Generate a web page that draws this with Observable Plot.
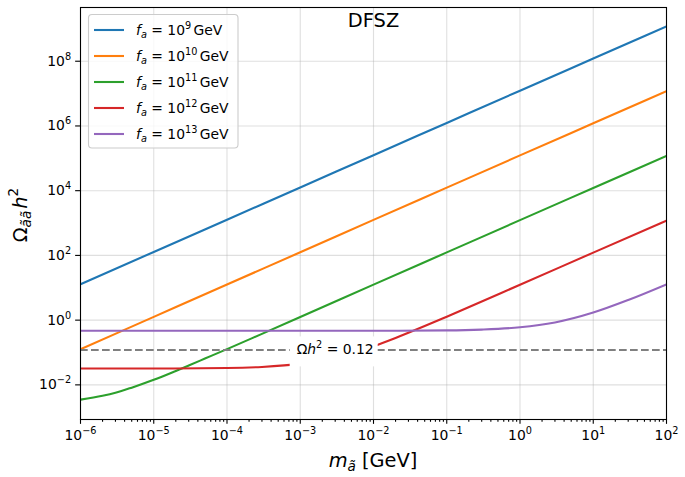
<!DOCTYPE html>
<html>
<head>
<meta charset="utf-8">
<script src="https://cdn.jsdelivr.net/npm/d3@7"></script>
<script src="https://cdn.jsdelivr.net/npm/@observablehq/plot@0.6"></script>
<style>
  html, body { margin: 0; padding: 0; background: white; }
  #chart { width: 685px; height: 477px; }
</style>
</head>
<body>
<div id="chart"></div>
<script>
// Relic abundance of the axino (DFSZ) versus axino mass, one curve per PQ scale f_a.
const faExponents = [9, 10, 11, 12, 13];
const seriesColors = ["#1f77b4", "#ff7f0e", "#2ca02c", "#d62728", "#9467bd"];

// f_a = 10^9 GeV
const mass_fa9  = [1e-6, 1e-5, 1e-4, 1e-3, 1e-2, 1e-1, 1, 10, 100];
const omega_fa9 = [12.8, 128, 1.27e3, 1.26e4, 1.25e5, 1.24e6, 1.23e7, 1.21e8, 1.19e9];
// f_a = 10^10 GeV
const mass_fa10  = [1e-6, 1e-5, 1e-4, 1e-3, 1e-2, 1e-1, 1, 10, 100];
const omega_fa10 = [0.126, 1.26, 12.6, 125, 1.25e3, 1.24e4, 1.23e5, 1.21e6, 1.19e7];
// f_a = 10^11 GeV
const mass_fa11  = [1e-6, 2e-6, 3e-6, 5e-6, 1e-5, 2e-5, 3e-5, 5e-5, 1e-4, 3e-4, 1e-3, 1e-2, 1e-1, 1, 10, 100];
const omega_fa11 = [0.0035, 0.0046, 0.0057, 0.0082, 0.0143, 0.027, 0.0397, 0.065, 0.127, 0.377, 1.25, 12.5, 124, 1.23e3, 1.21e4, 1.19e5];
// f_a = 10^12 GeV
const mass_fa12  = [1e-6, 1e-5, 1e-4, 3e-4, 1e-3, 2e-3, 3e-3, 5e-3, 1e-2, 2e-2, 5e-2, 1e-1, 1, 10, 100];
const omega_fa12 = [0.032, 0.0321, 0.0332, 0.0358, 0.0445, 0.057, 0.0695, 0.0945, 0.157, 0.282, 0.657, 1.28, 12.4, 122, 1.19e3];
// f_a = 10^13 GeV
const mass_fa13  = [1e-6, 1e-4, 1e-2, 1e-1, 0.3, 1, 3, 10, 30, 100];
const omega_fa13 = [0.47, 0.47, 0.471, 0.482, 0.51, 0.6, 0.85, 1.72, 4.2, 12.8];

const massSeries  = [mass_fa9, mass_fa10, mass_fa11, mass_fa12, mass_fa13];
const omegaSeries = [omega_fa9, omega_fa10, omega_fa11, omega_fa12, omega_fa13];

// Observed dark-matter density
const omegaObserved = 0.12;
const omegaLabelMass = 3e-3;

// Axis ticks
const xMajorExp = [-6, -5, -4, -3, -2, -1, 0, 1, 2];
const yMajorExp = [-2, 0, 2, 4, 6, 8];
const xMajor = xMajorExp.map(e => 10 ** e);
const yMajor = yMajorExp.map(e => 10 ** e);
const xMinor = xMajorExp.slice(0, -1).flatMap(e => [2, 3, 4, 5, 6, 7, 8, 9].map(k => k * 10 ** e));

const FS = 13.9;        // tick / legend font size
const FS_LABEL = 19.4;  // axis labels and title

const rows = faExponents.flatMap((fa, i) =>
  massSeries[i].map((m, j) => ({fa, m, omega: omegaSeries[i][j]}))
);

const sup = n => String(n).replace("-", "\u2212");

const plot = Plot.plot({
  width: 685,
  height: 477,
  marginLeft: 80,
  marginRight: 19,
  marginTop: 7,
  marginBottom: 58,
  style: {fontFamily: "DejaVu Sans", fontSize: FS + "px", color: "black", background: "white"},
  x: {type: "log", domain: [1e-6, 1e2], label: null},
  y: {type: "log", domain: [10 ** -3.07, 10 ** 9.66], label: null},
  color: {domain: faExponents, range: seriesColors},
  marks: [
    Plot.gridX(xMajor, {stroke: "#b0b0b0", strokeOpacity: 0.4, strokeWidth: 1.1}),
    Plot.gridY(yMajor, {stroke: "#b0b0b0", strokeOpacity: 0.4, strokeWidth: 1.1}),
    Plot.line(rows, {x: "m", y: "omega", z: "fa", stroke: "fa", strokeWidth: 2.1, curve: "monotone-x", clip: true}),
    Plot.ruleY([omegaObserved], {stroke: "#808080", strokeWidth: 2.1, strokeDasharray: "7.7 3.3"}),
    Plot.text([{m: omegaLabelMass, v: omegaObserved}], {
      x: "m", y: "v", text: () => "__relic__", fontSize: FS, fill: "black", textAnchor: "middle"
    }),
    Plot.text(["DFSZ"], {frameAnchor: "top", dy: 6, fontSize: FS_LABEL, fill: "black"}),
    Plot.axisX(xMinor, {tickSize: 2.78, strokeWidth: 1.1, stroke: "black", tickFormat: () => "", label: null}),
    Plot.axisX(xMajor, {tickSize: 4.86, tickPadding: 6, strokeWidth: 1.1, stroke: "black",
      tickFormat: d => "10^" + Math.round(Math.log10(d)), label: null, fontSize: FS}),
    Plot.axisY(yMajor, {tickSize: 4.86, tickPadding: 4.5, strokeWidth: 1.1, stroke: "black",
      tickFormat: d => "10^" + Math.round(Math.log10(d)), label: null, fontSize: FS}),
    Plot.frame({stroke: "black", strokeWidth: 1.1})
  ]
});

document.getElementById("chart").appendChild(plot);
const svg = d3.select(plot);

// Rich text: parts of {t, it, sup, sub, dx}
function setRich(textEl, parts, fs) {
  const t = d3.select(textEl);
  t.text(null);
  let shift = 0;
  for (const p of parts) {
    const target = p.sup ? -0.43 * fs : p.sub ? 0.22 * fs : 0;
    const ts = t.append("tspan").text(p.t);
    if (target !== shift) ts.attr("dy", target - shift);
    shift = target;
    if (p.sup || p.sub) ts.attr("font-size", 0.7 * fs);
    if (p.it) ts.attr("font-style", "italic");
    if (p.dx) ts.attr("dx", p.dx);
  }
}

// Tick labels as powers of ten; find the relic-density label
let relic = null;
svg.selectAll("text").each(function () {
  const s = this.textContent;
  const m = /^10\^(-?\d+)$/.exec(s);
  if (m) setRich(this, [{t: "10"}, {t: sup(m[1]), sup: true}], FS);
  if (s === "__relic__") relic = this;
});

// Omega h^2 = 0.12 label on a white box
if (relic) {
  setRich(relic, [{t: "\u03A9"}, {t: "h", it: true}, {t: "2", sup: true}, {t: " = 0.12"}], FS);
  const bb = relic.getBBox();
  const box = d3.select(relic.parentNode).insert("rect", ":first-child")
    .attr("x", bb.x - 7).attr("y", bb.y - 3)
    .attr("width", bb.width + 11).attr("height", bb.height + 12)
    .attr("fill", "white");
  const tr = relic.getAttribute("transform");
  if (tr) box.attr("transform", tr);
}

const xs = plot.scale("x"), ys = plot.scale("y");
const xMid = (xs.range[0] + xs.range[1]) / 2;
const yMid = (ys.range[0] + ys.range[1]) / 2;

// Axis labels
const xl = svg.append("text")
  .attr("x", xMid).attr("y", 467)
  .attr("text-anchor", "middle").attr("font-size", FS_LABEL).attr("fill", "black");
setRich(xl.node(), [{t: "m", it: true}, {t: "\u00E3", it: true, sub: true}, {t: " [GeV]"}], FS_LABEL);

const yl = svg.append("text")
  .attr("transform", `translate(26.5,${yMid + 2}) rotate(-90)`)
  .attr("text-anchor", "middle").attr("font-size", FS_LABEL).attr("fill", "black");
setRich(yl.node(), [{t: "\u03A9"}, {t: "\u00E3\u00E3", it: true, sub: true}, {t: "h", it: true, dx: 2}, {t: "2", sup: true}], FS_LABEL);

// Legend
const leg = svg.append("g").attr("font-size", FS).attr("text-anchor", "start");
leg.append("rect")
  .attr("x", 88.5).attr("y", 14.5).attr("width", 149.5).attr("height", 133.5)
  .attr("rx", 3.5).attr("fill", "white").attr("fill-opacity", 0.8)
  .attr("stroke", "#cccccc").attr("stroke-width", 1.1);
faExponents.forEach((fa, i) => {
  const yRow = 30 + 26 * i;
  leg.append("line")
    .attr("x1", 94).attr("x2", 124).attr("y1", yRow).attr("y2", yRow)
    .attr("stroke", seriesColors[i]).attr("stroke-width", 2.1);
  const t = leg.append("text").attr("x", 136).attr("y", yRow + 5)
    .attr("fill", "black").attr("text-anchor", "start");
  setRich(t.node(), [
    {t: "f", it: true}, {t: "a", it: true, sub: true},
    {t: " = 10"}, {t: String(fa), sup: true}, {t: "GeV", dx: 2.3}
  ], FS);
});
</script>
</body>
</html>
